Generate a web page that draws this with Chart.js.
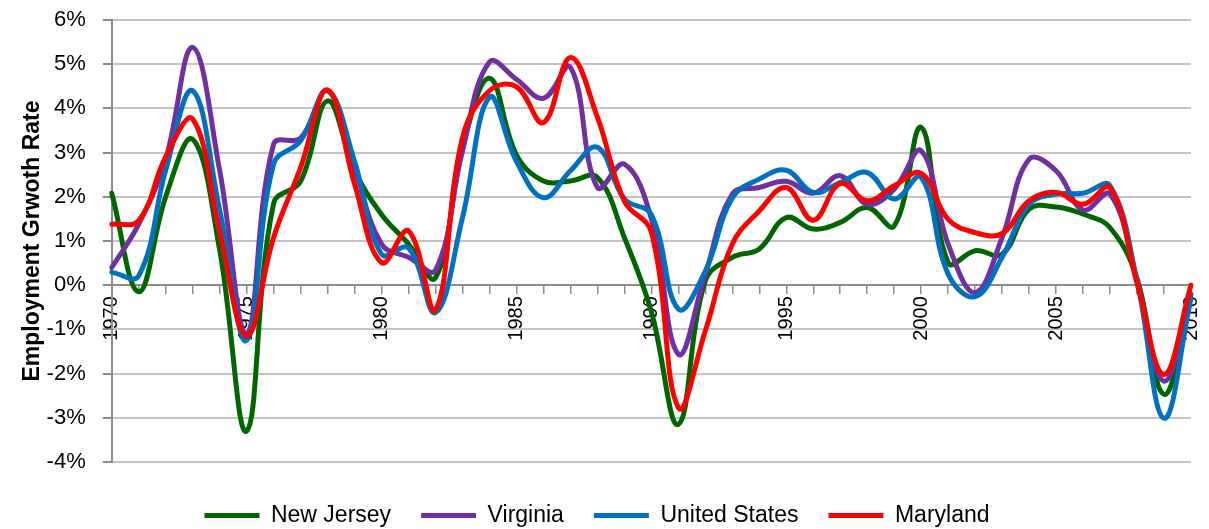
<!DOCTYPE html>
<html>
<head>
<meta charset="utf-8">
<script src="https://cdn.jsdelivr.net/npm/chart.js@4.4.1/dist/chart.umd.min.js"></script>
<style>
  body { margin: 0; background: #fff; }
  #wrap { width: 1209px; height: 529px; }
</style>
</head>
<body>
<div id="wrap"><canvas id="grafico"></canvas></div>
<script>
  const years = [1970, 1971, 1972, 1973, 1974, 1975, 1976, 1977, 1978, 1979,
                 1980, 1981, 1982, 1983, 1984, 1985, 1986, 1987, 1988, 1989,
                 1990, 1991, 1992, 1993, 1994, 1995, 1996, 1997, 1998, 1999,
                 2000, 2001, 2002, 2003, 2004, 2005, 2006, 2007, 2008, 2009, 2010];
  const labeledYears = [1970, 1975, 1980, 1985, 1990, 1995, 2000, 2005, 2010];

  const newJersey = [2.08, -0.15, 2.0, 3.3, 0.8, -3.3, 1.85, 2.35, 4.17, 2.6,
                     1.6, 0.93, 0.17, 3.1, 4.68, 2.95, 2.36, 2.36, 2.44, 1.08,
                     -0.6, -3.15, 0.1, 0.63, 0.82, 1.53, 1.27, 1.42, 1.76, 1.34,
                     3.57, 0.51, 0.78, 0.7, 1.72, 1.77, 1.61, 1.3, 0.15, -2.47, -0.2];
  const virginia = [0.4, 1.38, 2.85, 5.38, 2.6, -1.1, 3.19, 3.33, 4.4, 2.66,
                    0.93, 0.63, 0.34, 3.04, 5.05, 4.66, 4.23, 4.93, 2.21, 2.74,
                    1.5, -1.56, 0.25, 2.06, 2.21, 2.35, 2.08, 2.48, 1.83, 2.17,
                    3.04, 0.93, -0.17, 1.08, 2.85, 2.59, 1.7, 2.06, 0.1, -2.17, -0.2];
  const unitedStates = [0.29, 0.21, 2.6, 4.4, 1.7, -1.25, 2.74, 3.27, 4.4, 2.8,
                        0.7, 0.84, -0.62, 1.53, 4.25, 2.8, 1.98, 2.59, 3.12, 1.95,
                        1.6, -0.54, 0.32, 1.98, 2.4, 2.6, 2.1, 2.32, 2.55, 1.95,
                        2.44, 0.25, -0.26, 0.63, 1.83, 2.06, 2.08, 2.25, 0.1, -3.01, -0.3];
  const maryland = [1.38, 1.46, 2.9, 3.76, 1.2, -1.15, 1.08, 2.66, 4.42, 2.29,
                    0.51, 1.23, -0.56, 3.34, 4.4, 4.49, 3.68, 5.15, 3.8, 1.9,
                    1.2, -2.77, -1.03, 0.93, 1.68, 2.21, 1.47, 2.3, 1.91, 2.25,
                    2.53, 1.49, 1.19, 1.17, 1.91, 2.1, 1.83, 2.2, 0.05, -2.02, 0.0];

  Chart.defaults.font.family = "'Liberation Sans', Arial, sans-serif";
  Chart.defaults.color = '#000';

  const ctx = document.getElementById("grafico").getContext("2d");

  function serie(label, data, color, order) {
    return {
      label: label,
      data: data,
      borderColor: color,
      backgroundColor: color,
      borderWidth: 5,
      borderCapStyle: 'round',
      borderJoinStyle: 'round',
      pointRadius: 0,
      tension: 0.4,
      fill: false,
      order: order
    };
  }

  const chart = new Chart(ctx, {
    type: 'line',
    data: {
      labels: years,
      datasets: [
        serie('New Jersey', newJersey, '#006600', 4),
        serie('Virginia', virginia, '#7030A0', 3),
        serie('United States', unitedStates, '#0070C0', 2),
        serie('Maryland', maryland, '#FF0000', 1)
      ]
    },
    options: {
      responsive: true,
      maintainAspectRatio: false,
      animation: false,
      layout: {
        // y tick padding is counted twice by the axis fit, hence the odd numbers
        padding: { left: 3, right: 18, top: 20, bottom: -8 }
      },
      scales: {
        x: {
          position: { y: 0 },
          afterFit: scale => {
            scale.paddingLeft = 0;
            scale.paddingRight = 0;
          },
          ticks: {
            autoSkip: false,
            minRotation: 90,
            maxRotation: 90,
            padding: 3,
            font: { size: 20 },
            color: '#000',
            callback: function (value, index) {
              const y = years[index];
              return labeledYears.includes(y) ? String(y) : '';
            }
          },
          grid: {
            drawOnChartArea: false,
            drawTicks: true,
            tickLength: 8,
            color: '#8c8c8c',
            lineWidth: 1.5
          },
          border: { display: true, color: '#8c8c8c', width: 2 }
        },
        y: {
          min: -4,
          max: 6,
          afterFit: scale => {
            scale.paddingTop = 12;
            scale.paddingBottom = 12;
          },
          ticks: {
            stepSize: 1,
            padding: 17,
            font: { size: 22 },
            color: '#000',
            callback: v => v + '%'
          },
          grid: {
            color: '#c4c4c4',
            lineWidth: 2,
            tickLength: 9,
            tickColor: '#8c8c8c'
          },
          border: { display: true, color: '#8c8c8c', width: 2 },
          title: {
            display: true,
            text: 'Employment Grwoth Rate',
            font: { size: 23, weight: 'bold' },
            color: '#000',
            padding: { top: 16, bottom: -17 }
          }
        }
      },
      plugins: {
        legend: {
          position: 'bottom',
          reverse: true,
          title: {
            display: true,
            text: '',
            font: { size: 12, lineHeight: 1 },
            padding: 0
          },
          labels: {
            usePointStyle: true,
            pointStyle: 'line',
            pointStyleWidth: 55,
            padding: 30,
            font: { size: 23 },
            color: '#000'
          }
        },
        tooltip: { enabled: false }
      }
    }
  });
</script>
</body>
</html>
